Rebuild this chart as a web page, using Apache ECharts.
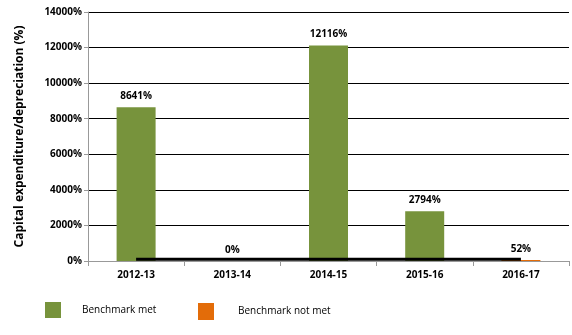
<!DOCTYPE html>
<html>
<head>
<meta charset="utf-8">
<script src="https://cdn.jsdelivr.net/npm/echarts@6/dist/echarts.min.js"></script>
<style>
html,body{margin:0;padding:0;background:#fff;}
#chart{width:572px;height:335px;}
</style>
</head>
<body>
<div id="chart"></div>
<script>
// Capital expenditure as a share of depreciation, by financial year
const categories = ['2012-13', '2013-14', '2014-15', '2015-16', '2016-17'];
const benchmarkMet = [8641, 0, 12116, 2794, null];
const benchmarkNotMet = [null, null, null, null, 52];
const benchmarkLine = [100, 100, 100, 100, 100];
const yTicks = { min: 0, max: 14000, interval: 2000 };

const font = 'Open Sans, DejaVu Sans, sans-serif';
const chart = echarts.init(document.getElementById('chart'));

const barLabel = {
  show: true,
  position: 'top',
  distance: 6,
  formatter: p => p.value + '%',
  fontFamily: font,
  fontSize: 10,
  fontWeight: 'bold',
  color: '#000'
};

const legendText = { fontFamily: font, fontSize: 10, color: '#000' };

chart.setOption({
  animation: false,
  grid: { left: 88, right: 3, top: 12, bottom: 74 },
  legend: [
    {
      data: ['Benchmark met'],
      left: 45, top: 302, padding: 0,
      itemWidth: 16, itemHeight: 16,
      textStyle: Object.assign({ padding: [0, 0, 0, 16] }, legendText),
      icon: 'rect'
    },
    {
      data: ['Benchmark not met'],
      left: 198, top: 303, padding: 0,
      itemWidth: 16, itemHeight: 17,
      textStyle: Object.assign({ padding: [0, 0, 0, 19] }, legendText),
      icon: 'rect'
    }
  ],
  xAxis: {
    type: 'category',
    data: categories,
    axisLine: { lineStyle: { color: '#999', width: 1 } },
    axisTick: { show: true, length: 5, lineStyle: { color: '#999' } },
    axisLabel: { fontFamily: font, fontSize: 10, fontWeight: 'bold', color: '#000', margin: 9 }
  },
  yAxis: {
    type: 'value',
    min: yTicks.min, max: yTicks.max, interval: yTicks.interval,
    name: 'Capital expenditure/depreciation (%)',
    nameLocation: 'middle',
    nameGap: 62,
    nameTextStyle: { fontFamily: font, fontSize: 12, fontWeight: 'bold', color: '#000' },
    axisLine: { show: true, lineStyle: { color: '#999' } },
    axisTick: { show: true, length: 4, lineStyle: { color: '#999' } },
    splitLine: { lineStyle: { color: '#000', width: 1 } },
    axisLabel: { formatter: v => v + '%', fontFamily: font, fontSize: 10, fontWeight: 'bold', color: '#000', margin: 6 }
  },
  series: [
    {
      name: 'Benchmark met',
      type: 'bar',
      stack: 'b',
      barWidth: 39,
      data: benchmarkMet,
      itemStyle: { color: '#77933C' },
      label: barLabel
    },
    {
      name: 'Benchmark not met',
      type: 'bar',
      stack: 'b',
      barWidth: 39,
      data: benchmarkNotMet,
      itemStyle: { color: '#E36C09' },
      label: barLabel
    },
    {
      name: 'Benchmark',
      type: 'line',
      data: benchmarkLine,
      symbol: 'none',
      lineStyle: { color: '#000', width: 3 },
      z: 5
    }
  ]
});
</script>
</body>
</html>
